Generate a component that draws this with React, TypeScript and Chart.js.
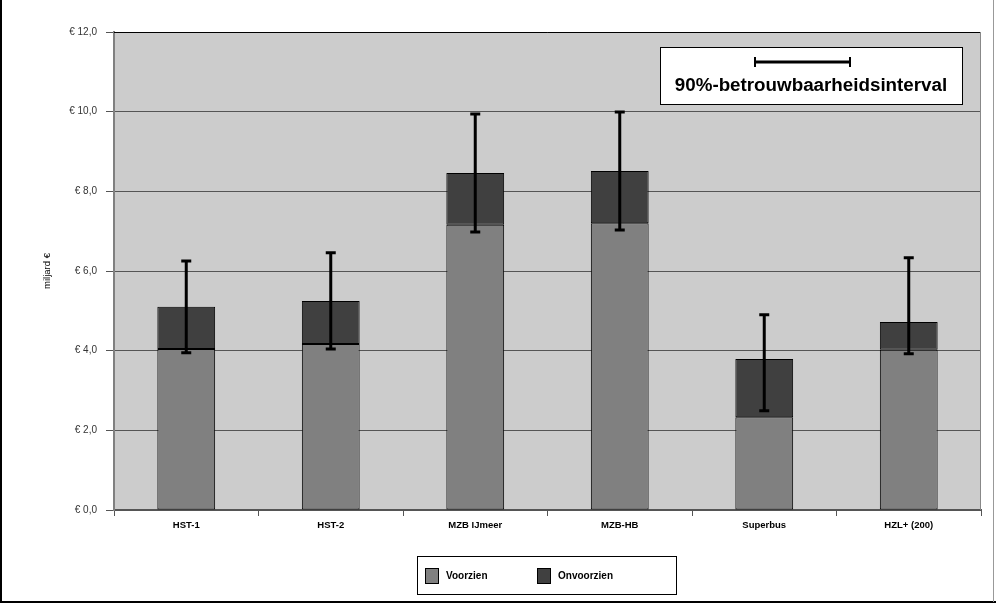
import React, { useEffect, useRef } from "react";
import { Chart, registerables } from "chart.js";

Chart.register(...registerables);

const categories = ["HST-1", "HST-2", "MZB IJmeer", "MZB-HB", "Superbus", "HZL+ (200)"];
const voorzien = [4.04, 4.17, 7.16, 7.2, 2.33, 4.02];
const onvoorzien = [1.06, 1.08, 1.3, 1.31, 1.46, 0.7];
const errLow = [3.95, 4.04, 6.98, 7.03, 2.49, 3.92];
const errHigh = [6.25, 6.46, 9.94, 9.99, 4.9, 6.33];
const yTicks = [0, 2, 4, 6, 8, 10, 12];
const legendLabels = ["Voorzien", "Onvoorzien"];
const intervalLabel = "90%-betrouwbaarheidsinterval";
const yTitle = "miljard €";

const FONT = "'Liberation Sans', Arial, Helvetica, sans-serif";

const decorPlugin = {
  id: "decor",
  beforeDraw(chart: any) {
    const { ctx, chartArea: a } = chart;
    ctx.save();
    ctx.fillStyle = "#cccccc";
    ctx.fillRect(a.left, a.top, a.right - a.left, a.bottom - a.top);
    ctx.restore();
  },
  afterDatasetsDraw(chart: any) {
    const { ctx, chartArea: a, scales } = chart;
    const x = scales.x;
    const y = scales.y;
    ctx.save();
    // y title
    ctx.save();
    ctx.translate(47, (a.top + a.bottom) / 2);
    ctx.rotate(-Math.PI / 2);
    ctx.fillStyle = "#000";
    ctx.font = `9.5px ${FONT}`;
    ctx.textAlign = "center";
    ctx.textBaseline = "middle";
    ctx.fillText(yTitle, 0, 0);
    ctx.restore();
    // plot frame
    ctx.strokeStyle = "#000";
    ctx.lineWidth = 1;
    ctx.beginPath();
    ctx.moveTo(a.left, a.top + 0.5);
    ctx.lineTo(a.right, a.top + 0.5);
    ctx.stroke();
    ctx.strokeStyle = "#888";
    ctx.beginPath();
    ctx.moveTo(a.right - 0.5, a.top);
    ctx.lineTo(a.right - 0.5, a.bottom);
    ctx.stroke();
    // error bars
    ctx.strokeStyle = "#000";
    ctx.lineWidth = 3;
    ctx.lineCap = "butt";
    categories.forEach((_, i) => {
      const cx = x.getPixelForValue(i);
      const yl = y.getPixelForValue(errLow[i]);
      const yh = y.getPixelForValue(errHigh[i]);
      ctx.beginPath();
      ctx.moveTo(cx, yl);
      ctx.lineTo(cx, yh);
      ctx.moveTo(cx - 5, yl);
      ctx.lineTo(cx + 5, yl);
      ctx.moveTo(cx - 5, yh);
      ctx.lineTo(cx + 5, yh);
      ctx.stroke();
    });
    // interval box
    ctx.fillStyle = "#fff";
    ctx.fillRect(660, 47, 302, 57);
    ctx.lineWidth = 1;
    ctx.strokeRect(660.5, 47.5, 302, 57);
    ctx.lineWidth = 3;
    ctx.beginPath();
    ctx.moveTo(754, 62);
    ctx.lineTo(851, 62);
    ctx.stroke();
    ctx.lineWidth = 2;
    ctx.beginPath();
    ctx.moveTo(755, 57);
    ctx.lineTo(755, 67);
    ctx.moveTo(850, 57);
    ctx.lineTo(850, 67);
    ctx.stroke();
    ctx.fillStyle = "#000";
    ctx.font = `bold 18.8px ${FONT}`;
    ctx.textAlign = "center";
    ctx.textBaseline = "alphabetic";
    ctx.fillText(intervalLabel, 811, 91);
    // legend box
    ctx.fillStyle = "#fff";
    ctx.fillRect(417, 556, 259, 38);
    ctx.lineWidth = 1;
    ctx.strokeStyle = "#000";
    ctx.strokeRect(417.5, 556.5, 259, 38);
    const colors = ["#808080", "#404040"];
    const lx = [425, 537];
    legendLabels.forEach((lab, i) => {
      ctx.fillStyle = colors[i];
      ctx.fillRect(lx[i], 568, 13, 15);
      ctx.strokeStyle = "#000";
      ctx.strokeRect(lx[i] + 0.5, 568.5, 13, 15);
      ctx.fillStyle = "#000";
      ctx.font = `bold 10px ${FONT}`;
      ctx.textAlign = "left";
      ctx.textBaseline = "middle";
      ctx.fillText(lab, lx[i] + 21, 576);
    });
    // outer frame
    ctx.strokeStyle = "#000";
    ctx.lineWidth = 2;
    ctx.beginPath();
    ctx.moveTo(1, 0);
    ctx.lineTo(1, 602);
    ctx.lineTo(996, 602);
    ctx.stroke();
    ctx.strokeStyle = "#999";
    ctx.lineWidth = 1;
    ctx.beginPath();
    ctx.moveTo(993.5, 0);
    ctx.lineTo(993.5, 602);
    ctx.stroke();
    ctx.restore();
  },
};

export default function App() {
  const ref = useRef<HTMLCanvasElement | null>(null);
  useEffect(() => {
    document.body.style.margin = "0";
    const canvas = ref.current!;
    const chart = new Chart(canvas, {
      type: "bar",
      data: {
        labels: categories,
        datasets: [
          {
            label: legendLabels[0],
            data: voorzien,
            backgroundColor: "#808080",
            borderColor: "#000",
            borderWidth: 1,
            borderSkipped: false,
            barPercentage: 0.4,
            categoryPercentage: 1,
          },
          {
            label: legendLabels[1],
            data: onvoorzien,
            backgroundColor: "#404040",
            borderColor: "#000",
            borderWidth: 1,
            borderSkipped: false,
            barPercentage: 0.4,
            categoryPercentage: 1,
          },
        ],
      },
      options: {
        animation: false,
        responsive: false,
        maintainAspectRatio: false,
        layout: { padding: { left: 0, top: 32, right: 15, bottom: 0 } },
        plugins: { legend: { display: false }, tooltip: { enabled: false } },
        scales: {
          x: {
            stacked: true,
            offset: true,
            afterFit(s: any) {
              s.height = 94;
            },
            grid: {
              offset: true,
              drawOnChartArea: false,
              drawTicks: true,
              tickLength: 6,
              color: "#555",
            },
            border: { color: "#555", width: 2 },
            ticks: {
              color: "#000",
              font: { family: FONT, size: 9.5, weight: "bold" },
              padding: 4,
            },
          },
          y: {
            stacked: true,
            min: 0,
            max: 12,
            afterFit(s: any) {
              s.width = 114;
            },
            afterBuildTicks(s: any) {
              s.ticks = yTicks.map((v) => ({ value: v }));
            },
            grid: { color: "#555", lineWidth: 1, tickLength: 8 },
            border: { color: "#808080", width: 2 },
            ticks: {
              color: "#333",
              font: { family: FONT, size: 10 },
              padding: 9,
              callback: (v: any) => "€ " + Number(v).toFixed(1).replace(".", ","),
            },
          },
        },
      },
      plugins: [decorPlugin],
    });
    return () => chart.destroy();
  }, []);
  return (
    <div style={{ position: "absolute", left: 0, top: 0, width: 996, height: 604, background: "#fff" }}>
      <canvas ref={ref} width={996} height={604} style={{ width: 996, height: 604 }} />
    </div>
  );
}
